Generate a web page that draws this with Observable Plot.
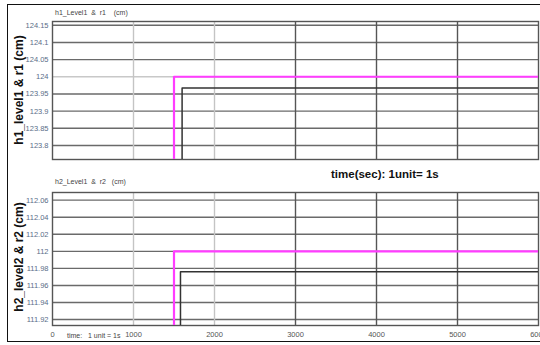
<!DOCTYPE html>
<html><head><meta charset="utf-8">
<script src="https://cdn.jsdelivr.net/npm/d3@7"></script>
<script src="https://cdn.jsdelivr.net/npm/@observablehq/plot@0.6"></script>
<style>
body{margin:0;width:540px;height:345px;overflow:hidden;background:#fff;font-family:"Liberation Sans",Arial,sans-serif;}
#wrap{position:relative;width:540px;height:345px;overflow:hidden}
.border{position:absolute;left:7px;top:4px;width:560px;height:338px;border:1.5px solid #111;box-sizing:border-box}
.p{position:absolute;left:0}
.small{position:absolute;font-size:7px;color:#444;white-space:pre;line-height:1}
.ytitle{position:absolute;font-weight:bold;font-size:12px;color:#111;transform:translate(-50%,-50%) rotate(-90deg);white-space:nowrap;line-height:1}
.mid{position:absolute;font-weight:bold;font-size:11.5px;color:#111;white-space:nowrap;line-height:1}
</style></head><body>
<div id="wrap">
  <div class="border"></div>
  <div id="p1" class="p" style="top:0"></div>
  <div id="p2" class="p" style="top:170px"></div>
  <div class="small" style="left:55px;top:9px">h1_Level1  &amp;  r1    (cm)</div>
  <div class="small" style="left:55px;top:178px">h2_Level1  &amp;  r2   (cm)</div>
  <div class="ytitle" style="left:19px;top:90px">h1_level1 &amp; r1 (cm)</div>
  <div class="ytitle" style="left:19px;top:257px">h2_level2 &amp; r2 (cm)</div>
  <div class="mid" style="left:331px;top:169px">time(sec): 1unit= 1s</div>
  <div class="small" style="left:67px;top:332px">time:   1 unit = 1s</div>
</div>
<script>
// tick values
const xTicks = [0, 1000, 2000, 3000, 4000, 5000, 6000];
const y1Ticks = [123.8, 123.85, 123.9, 123.95, 124, 124.05, 124.1, 124.15];
const y2Ticks = [111.92, 111.94, 111.96, 111.98, 112, 112.02, 112.04, 112.06];

// panel 1 series: r1 (reference, magenta) and h1 (level, black)
const r1Time = [0, 1500, 6000];
const r1Vals = [123.7, 124.0, 124.0];
const h1Time = [0, 1600, 6000];
const h1Vals = [123.7, 123.967, 123.967];

// panel 2 series: r2 (reference, magenta) and h2 (level, black)
const r2Time = [0, 1500, 6000];
const r2Vals = [111.9, 112.0, 112.0];
const h2Time = [0, 1580, 6000];
const h2Vals = [111.9, 111.976, 111.976];

const rows = (t, v) => t.map((x, i) => ({t: x, v: v[i]}));
const fmt = d => String(+d.toFixed(2));
const vStroke = d => d < 2500 ? "#c4c4c4" : "#555";

function panel({yDomain, yTicks, r, h, height, mt, mb, showX}) {
  return Plot.plot({
    width: 540, height, marginLeft: 52, marginRight: 2, marginTop: mt, marginBottom: mb,
    style: {fontFamily: "Liberation Sans, Arial, sans-serif", background: "transparent", overflow: "visible"},
    x: {domain: [0, 6000]},
    y: {domain: yDomain},
    marks: [
      Plot.ruleY(yTicks, {stroke: d => Math.abs(d - 124) < 1e-9 ? "#c8c8c8" : "#6a6a6a", strokeWidth: 1.4}),
      Plot.ruleX(xTicks.slice(1, 6), {stroke: vStroke, strokeWidth: 1.4}),
      Plot.frame({stroke: "#555", strokeWidth: 1.4}),
      Plot.line(r, {x: "t", y: "v", curve: "step-after", stroke: "#ff3dff", strokeWidth: 2.2, clip: true}),
      Plot.line(h, {x: "t", y: "v", curve: "step-after", stroke: "#333", strokeWidth: 1.5, clip: true}),
      Plot.axisY(yTicks, {tickSize: 0, tickPadding: 4, fontSize: 7.5, fill: "#5a6d88", tickFormat: fmt, label: null}),
      showX
        ? Plot.axisX(xTicks, {tickSize: 0, tickPadding: 6, fontSize: 7.5, fill: "#555", tickFormat: d => String(d), label: null})
        : Plot.axisX({ticks: [], label: null})
    ]
  });
}

document.getElementById("p1").append(panel({
  yDomain: [123.759, 124.161], yTicks: y1Ticks,
  r: rows(r1Time, r1Vals), h: rows(h1Time, h1Vals),
  height: 170, mt: 21, mb: 11, showX: false
}));
document.getElementById("p2").append(panel({
  yDomain: [111.913, 112.069], yTicks: y2Ticks,
  r: rows(r2Time, r2Vals), h: rows(h2Time, h2Vals),
  height: 175, mt: 22, mb: 20, showX: true
}));
</script>
</body></html>
